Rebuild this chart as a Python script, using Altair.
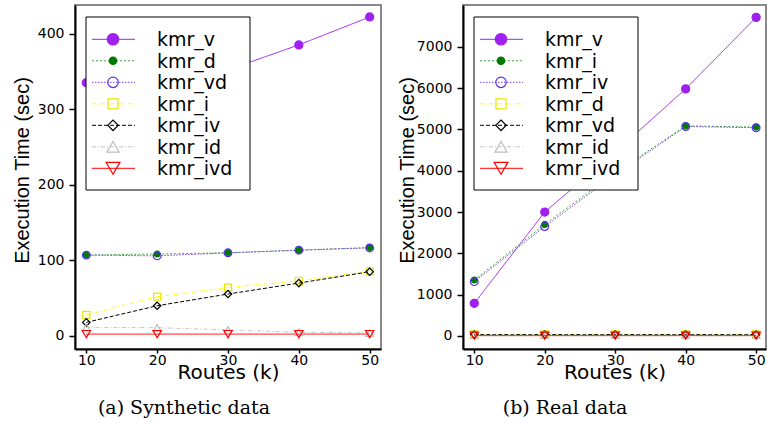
import altair as alt
import pandas as pd

routes = [10, 20, 30, 40, 50]

# (a) Synthetic data
syn_names = ["kmr_v", "kmr_d", "kmr_vd", "kmr_i", "kmr_iv", "kmr_id", "kmr_ivd"]
syn_kmr_v = [335, 345, 352, 385, 422]
syn_kmr_d = [107, 108.5, 110, 113.5, 117]
syn_kmr_vd = [107, 106, 110, 113.5, 116.5]
syn_kmr_i = [28, 52, 64, 73, 85.5]
syn_kmr_iv = [18, 40, 55.5, 70, 85]
syn_kmr_id = [11.5, 11, 8, 5, 4]
syn_kmr_ivd = [2.5, 2.5, 2.5, 2.5, 2.5]
syn_values = [syn_kmr_v, syn_kmr_d, syn_kmr_vd, syn_kmr_i, syn_kmr_iv, syn_kmr_id, syn_kmr_ivd]
syn_ticks = [0, 100, 200, 300, 400]

# (b) Real data
real_names = ["kmr_v", "kmr_i", "kmr_iv", "kmr_d", "kmr_vd", "kmr_id", "kmr_ivd"]
real_kmr_v = [790, 3000, 4450, 5980, 7710]
real_kmr_i = [1355, 2700, 3950, 5085, 5055]
real_kmr_iv = [1315, 2650, 3900, 5070, 5040]
real_kmr_d = [40, 40, 40, 40, 40]
real_kmr_vd = [35, 35, 35, 35, 35]
real_kmr_id = [20, 20, 20, 20, 20]
real_kmr_ivd = [8, 8, 8, 8, 8]
real_values = [real_kmr_v, real_kmr_i, real_kmr_iv, real_kmr_d, real_kmr_vd, real_kmr_id, real_kmr_ivd]
real_ticks = [0, 1000, 2000, 3000, 4000, 5000, 6000, 7000]

captions = ["(a) Synthetic data", "(b) Real data"]

# styles by legend position
line_colors = ["#A020F0", "#3CA83C", "#7A3CF0", "#FFFF00", "#000000", "#C4C4C4", "#FF0000"]
marker_stroke = ["#A020F0", "#007A00", "#5A2EF0", "#E6E600", "#000000", "#BDBDBD", "#FF0000"]
marker_fill = ["#A020F0", "#007A00", "transparent", "transparent", "transparent", "transparent", "transparent"]
dashes = [[1, 0], [2, 2], [1.5, 1.5], [4, 2, 1, 2], [4, 2], [4, 2, 1, 2], [1, 0]]
shapes = ["circle", "circle", "circle", "square", "diamond", "triangle-up", "triangle-down"]
sizes = [65, 35, 60, 50, 55, 60, 70]
legend_sizes = [130, 55, 110, 100, 110, 150, 190]


def panel(names, values, ydom, yticks, xdom, width, ytitle_x, caption, cap_x):
    xs = alt.Scale(domain=xdom, nice=False, zero=False)
    ys = alt.Scale(domain=ydom, nice=False, zero=False)
    xax = alt.Axis(values=routes, title="Routes (k)", tickSize=4, labelPadding=0,
                   labelFlush=False, titleFont="DejaVu Sans", titleFontSize=20,
                   titleY=29, titleBaseline="alphabetic")
    yax = alt.Axis(values=yticks, format="d", title="Execution Time (sec)", tickSize=6, labelPadding=5,
                   titleFont="Liberation Sans", titleFontSize=20, titleAngle=270,
                   titleX=ytitle_x, titleY=165, titleBaseline="middle", titleAlign="center")
    lines, points = [], []
    for i, (n, v) in enumerate(zip(names, values)):
        df = pd.DataFrame({"routes": routes, "time": v, "series": n})
        enc = dict(x=alt.X("routes:Q", scale=xs, axis=xax),
                   y=alt.Y("time:Q", scale=ys, axis=yax))
        lines.append(alt.Chart(df).mark_line(color=line_colors[i], strokeDash=dashes[i],
                                             strokeWidth=1).encode(**enc))
        points.append(alt.Chart(df).mark_point(shape=shapes[i], size=sizes[i], fill=marker_fill[i],
                                               stroke=marker_stroke[i], strokeWidth=1.2,
                                               opacity=1).encode(**enc))
    data_group = alt.layer(*lines, *points)

    row_scale = alt.Scale(domain=[0, 6], range=[34.3, 163.3], nice=False, zero=False)
    box = alt.Chart(pd.DataFrame({"k": [0]})).mark_rect(fill="white", stroke="black", strokeWidth=1).encode(
        x=alt.value(11), x2=alt.value(175), y=alt.value(12), y2=alt.value(185))
    leg = []
    for i, n in enumerate(names):
        ldf = pd.DataFrame({"series": [n], "row": [i]})
        ly = alt.Y("row:Q", scale=row_scale, axis=None)
        leg.append(alt.Chart(ldf).mark_rule(color=line_colors[i], strokeDash=dashes[i], strokeWidth=1).encode(
            x=alt.value(17), x2=alt.value(60), y=ly))
        leg.append(alt.Chart(ldf).mark_point(shape=shapes[i], size=legend_sizes[i], fill=marker_fill[i],
                                             stroke=marker_stroke[i], strokeWidth=1.2, opacity=1).encode(
            x=alt.value(38), y=ly))
    tdf = pd.DataFrame({"series": names, "row": list(range(len(names)))})
    text = alt.Chart(tdf).mark_text(align="left", baseline="alphabetic", dy=7, font="DejaVu Sans",
                                    fontSize=19, color="black").encode(
        x=alt.value(82), y=alt.Y("row:Q", scale=row_scale, axis=None), text="series:N")
    cap = alt.Chart(pd.DataFrame({"t": [caption]})).mark_text(
        align="center", baseline="middle", font="DejaVu Serif", fontSize=19, color="black").encode(
        x=alt.value(cap_x), y=alt.value(403), text="t:N")
    legend_group = alt.layer(box, *leg, text, cap)
    return alt.layer(data_group, legend_group).resolve_scale(y="independent").properties(
        width=width, height=344)


left = panel(syn_names, syn_values, [-17.2, 437.8], syn_ticks, [8.4, 51.6], 306, -53, captions[0], 109)
right = panel(real_names, real_values, [-315, 8010], real_ticks, [8.4, 51.4], 303, -56, captions[1], 102)

chart = alt.hconcat(left, right, spacing=82, bounds="flush").resolve_scale(
    x="independent", y="independent"
).configure_view(stroke="#888888", strokeWidth=2).configure_axis(
    domainColor="black", domainWidth=2, tickColor="black", tickWidth=1.5,
    labelFont="DejaVu Sans", labelFontSize=14, labelColor="black", titleColor="black",
    titleFontWeight="normal", grid=False
).properties(
    autosize=alt.AutoSizeParams(type="pad"),
    padding={"left": 11, "top": 4, "right": 0, "bottom": 0},
    background="white"
)

chart.save("out.html", embed_options={"renderer": "svg", "actions": False})
